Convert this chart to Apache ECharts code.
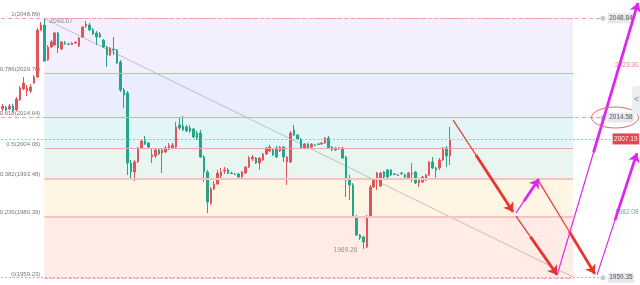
<!DOCTYPE html>
<html><head><meta charset="utf-8">
<script src="https://cdn.jsdelivr.net/npm/echarts@6/dist/echarts.min.js"></script>
<style>html,body{margin:0;padding:0;background:#fff}#c{width:640px;height:285px}</style>
</head><body><div id="c"></div>
<script>
// ---- candle data (one entry per bar) ----
const opens = [2017.69,2018.03,2017.51,2018.55,2017.17,2020.62,2024.41,2023.72,2023.72,2026.48,
 2028.55,2044.76,2046.48,2034.41,2038.89,2039.58,2043.72,2038.20,2040.44,2039.93,
 2039.76,2040.27,2039.24,2042.34,2046.13,2046.48,2044.76,2043.72,2043.38,2041.31,
 2038.89,2036.13,2038.20,2037.86,2033.72,2024.07,2023.03,1998.89,1995.79,1999.24,
 2004.07,2006.48,2005.79,2000.96,2001.31,2003.38,2002.34,2002.69,2003.72,2004.07,
 2004.41,2012.00,2011.65,2011.31,2010.96,2010.62,2009.24,2009.24,2000.96,1995.79,
 1985.10,1989.93,1991.65,1994.41,1996.13,1996.48,1995.44,1995.10,1995.10,1994.07,
 1995.44,1997.51,2000.27,2000.62,1998.89,1999.93,2002.00,2003.03,2003.38,2004.07,
 2003.03,2004.41,1999.24,1999.24,2010.27,2008.55,2007.17,2004.07,2005.44,2004.41,
 2005.10,2005.44,2005.44,2005.79,2007.51,2004.41,2003.38,2004.07,2004.07,2000.96,
 1993.03,1991.31,1980.27,1974.07,1973.38,1969.93,1980.27,1990.62,1993.03,1990.96,
 1995.79,1996.48,1996.48,1995.10,1994.76,1995.44,1994.76,1993.72,1995.10,1995.79,
 1992.00,1992.34,1993.03,1994.76,1999.24,1997.17,1997.17,1999.93,2004.07,2001.31];
const closes = [2018.38,2017.17,2018.55,2017.00,2020.96,2024.76,2026.48,2024.76,2025.10,2028.55,
 2044.76,2046.48,2034.07,2038.89,2040.62,2043.72,2038.55,2040.62,2040.10,2039.76,
 2040.27,2040.44,2042.00,2045.79,2046.82,2044.76,2043.38,2042.34,2042.34,2038.89,
 2036.13,2038.55,2037.86,2033.38,2024.07,2022.34,1998.89,1995.79,1999.24,2004.07,
 2006.48,2005.44,2004.41,2001.65,2003.38,2002.00,2003.38,2004.07,2004.76,2005.10,
 2011.31,2010.96,2010.27,2009.93,2009.93,2007.86,2007.51,2000.96,1995.79,1985.44,
 1989.93,1991.65,1995.44,1995.79,1996.48,1995.44,1995.27,1994.93,1994.07,1995.79,
 1997.51,2000.62,2000.96,1998.89,2000.62,2002.00,2004.07,2004.41,2001.65,2000.96,
 2004.41,2000.96,2000.96,2009.24,2008.55,2007.17,2004.07,2005.44,2004.07,2005.44,
 2004.93,2005.27,2005.79,2007.51,2004.07,2003.38,2004.07,2003.72,2000.62,1993.03,
 1991.31,1980.27,1974.07,1973.03,1971.65,1980.27,1990.62,1993.03,1995.44,1995.44,
 1994.07,1994.07,1994.76,1994.93,1994.58,1995.27,1994.07,1995.44,1995.44,1992.00,
 1993.03,1994.07,1994.76,1999.24,1997.17,1996.48,1999.93,2004.07,2001.31,2007.19];
const lows = [2016.82,2016.82,2017.17,2016.48,2016.82,2020.27,2024.07,2022.00,2023.03,2026.13,
 2028.20,2044.41,2033.72,2034.07,2038.55,2039.24,2036.82,2037.86,2039.58,2039.58,
 2039.58,2039.93,2038.89,2042.00,2045.44,2044.41,2043.03,2039.58,2042.00,2038.55,
 2032.00,2035.79,2036.13,2033.03,2023.38,2017.86,1994.76,1993.72,1992.69,1998.89,
 2003.72,2005.10,2004.07,1998.89,2000.62,2001.65,1995.44,2002.34,2003.38,2003.72,
 2004.07,2010.27,2009.93,2009.58,2009.24,2007.51,2006.82,2000.62,1992.34,1981.65,
 1984.41,1989.58,1991.31,1993.72,1995.10,1995.10,1995.10,1994.76,1993.72,1993.72,
 1995.10,1997.17,1999.58,1998.55,1996.48,1999.58,2001.65,2002.69,2001.31,2000.62,
 2002.69,1999.24,1991.31,1998.89,2008.20,2006.82,2003.72,2003.72,2003.72,2004.07,
 2004.76,2005.10,2005.10,2005.44,2003.72,2003.03,2003.03,2003.38,2000.27,1987.17,
 1986.13,1979.93,1973.72,1972.34,1969.26,1969.58,1979.93,1990.27,1989.58,1990.62,
 1993.72,1993.72,1994.41,1994.76,1994.41,1994.76,1993.72,1993.38,1992.34,1991.65,
 1990.62,1992.00,1992.69,1994.41,1996.82,1993.03,1996.48,1999.58,1997.51,1998.20];
const highs = [2019.24,2018.55,2019.24,2019.24,2021.65,2025.44,2028.55,2025.79,2026.13,2029.24,
 2045.44,2047.51,2048.67,2039.58,2041.31,2044.07,2044.07,2040.96,2040.96,2040.27,
 2040.62,2040.96,2042.34,2046.13,2047.86,2047.17,2045.44,2044.41,2044.07,2041.65,
 2039.24,2038.89,2042.34,2038.20,2034.41,2024.76,2023.72,1999.93,1999.93,2004.41,
 2006.82,2008.20,2006.13,2004.07,2004.07,2004.07,2003.72,2004.76,2005.79,2005.79,
 2013.03,2014.76,2015.10,2012.00,2012.00,2010.96,2009.93,2010.27,2001.65,1996.48,
 1990.62,1992.69,1996.48,1997.17,1997.51,1997.17,1995.79,1995.44,1995.44,1996.13,
 1997.86,2001.31,2001.65,2000.96,2000.96,2002.34,2004.41,2005.10,2003.72,2004.76,
 2004.76,2004.76,2001.31,2009.93,2012.00,2008.89,2007.51,2005.79,2005.79,2005.79,
 2005.44,2005.79,2006.13,2007.86,2008.20,2004.76,2004.41,2004.41,2004.41,2001.31,
 1994.76,1992.00,1980.96,1974.41,1973.72,1980.96,1991.31,1993.72,1995.79,1995.79,
 1996.13,1996.82,1996.82,1995.44,1995.10,1995.79,1995.10,1995.79,1998.89,1996.13,
 1993.38,1994.41,1995.10,1999.58,2000.96,1997.51,2000.62,2004.41,2004.76,2011.31];

// ---- Fibonacci retracement ----
const fibRatios = ['1','0.786','0.618','0.5','0.382','0.236','0'];
const fibPrices = [2048.89,2029.70,2014.64,2004.06,1993.48,1980.39,1959.23];
const fibStartBar = 12;      // bar of the swing high
const fibEndBar = 164.5;     // right end of the retracement drawing

// ---- annotations ----
const highMark = [12, 2048.67];
const lowMark = [104, 1969.26];
const trendLine = [[12, 2048.67], [164.5, 1959.6]];
const grayTags = [2048.84, 2014.58, 1959.35];
const lastPrice = 2007.19;
const targetUp = '2023.30', targetUpAt = 2032.7;
const targetDown = '1982.08', targetDownAt = 1982.08;
// arrows: [from, to, share of thin tail]
const redArrows = [
  [[129.9, 2013.7], [147.2, 1982.0], 0.38],
  [[148.0, 1980.6], [159.9, 1960.3], 0.35],
  [[154.4, 1993.0], [170.8, 1960.6], 0.55]
];
const magentaArrows = [
  [[148.0, 1981.6], [154.6, 1993.4], 0.35],
  [[159.9, 1960.3], [183.2, 2054.1], 0.45],
  [[171.4, 1960.3], [182.9, 2002.3], 0.45]
];

const N = 184;
const categories = Array.from({length: N}, (_, i) => String(i));
const candleData = opens.map((o, i) => [o, closes[i], lows[i], highs[i]]);
const FONT = 'Liberation Sans';
const fibColors = ['#f3effc', '#e9edfc', '#e2f6fa', '#e8f6ef', '#fff5e4', '#ffece6'];
const fibLineW = [1, 1, 1, 1, 2, 2, 1];
const tagEnd = 173.1, lastEnd = 175.6, txtBar = 176.6;

function split(arrows) {
  const thin = [], thick = [];
  arrows.forEach(([a, b, r]) => {
    const m = [a[0] + (b[0] - a[0]) * r, a[1] + (b[1] - a[1]) * r];
    thin.push({coords: [a, m]});
    thick.push({coords: [m, b]});
  });
  return {thin, thick};
}
const ra = split(redArrows), ma = split(magentaArrows);

const grayLabel = {show: true, position: 'end', distance: 5, fontFamily: FONT, fontSize: 6.5,
  color: '#555', backgroundColor: '#e6e8ec', padding: [1.5, 1.5], borderRadius: 1};

const chart = echarts.init(document.getElementById('c'));
chart.setOption({
  animation: false,
  grid: {left: 1, right: 1, top: 0, bottom: 0},
  xAxis: [
    {type: 'category', data: categories, show: false, boundaryGap: true},
    {type: 'value', min: -0.5, max: N - 0.5, show: false}
  ],
  yAxis: {type: 'value', min: 1956.82, max: 2055.10, show: false},
  series: [
    { // retracement bands, lines, labels
      type: 'scatter', xAxisIndex: 1, z: 1, symbolSize: 0, silent: true,
      data: fibPrices.map(p => [fibStartBar, p]),
      label: {show: true, position: 'left', distance: 4, offset: [0, -4], fontFamily: FONT,
        fontSize: 6, color: '#555',
        formatter: p => fibRatios[p.dataIndex] + '(' + fibPrices[p.dataIndex].toFixed(2) + ')'},
      markArea: {silent: true,
        data: fibPrices.slice(0, -1).map((p, i) => [
          {coord: [fibStartBar, p], itemStyle: {color: fibColors[i]}},
          {coord: [fibEndBar, fibPrices[i + 1]]}])},
      markLine: {silent: true, symbol: 'none', label: {show: false},
        data: fibPrices.map((p, i) => [
          {coord: [fibStartBar, p], lineStyle: {width: fibLineW[i],
            color: (i === 4 || i === 5) ? '#f6c4be' : '#eda6ae',
            type: (i === 0 || i === 6) ? 'dashed' : 'solid'}},
          {coord: [fibEndBar, p]}])}
    },
    { // price tags on the right
      type: 'scatter', xAxisIndex: 1, z: 2, symbol: 'circle', symbolSize: 5, silent: true,
      itemStyle: {color: '#b9bdc3'},
      data: grayTags.map(p => [tagEnd, p]),
      markLine: {silent: true, symbol: 'none',
        data: grayTags.map((p, i) => [
          {coord: [-0.5, p], label: Object.assign({}, grayLabel, {distance: 7.5, formatter: p.toFixed(2)}),
           lineStyle: {color: i === 2 ? '#86cbc6' : '#eba2aa', width: 1, type: i === 2 ? [2, 2] : [4, 3]}},
          {coord: [tagEnd - 0.8, p]}
        ]).concat([[
          {coord: [-0.5, lastPrice],
           label: {show: true, position: 'end', distance: 1, fontFamily: FONT, fontSize: 6.5, color: '#fff',
             backgroundColor: '#e2474f', padding: [2, 1.5], formatter: lastPrice.toFixed(2)},
           lineStyle: {color: '#f0a2aa', width: 1, type: [2, 2]}},
          {coord: [lastEnd, lastPrice]}
        ]])}
    },
    { // trend line
      type: 'line', xAxisIndex: 1, z: 2, data: trendLine, symbol: 'none', silent: true,
      lineStyle: {color: 'rgba(150,150,150,0.55)', width: 1}
    },
    {
      type: 'candlestick', z: 3, data: candleData, barWidth: 2,
      itemStyle: {color: '#e2555c', color0: '#25a58a', borderColor: '#e2555c', borderColor0: '#25a58a', borderWidth: 1}
    },
    { // high/low and target texts
      type: 'scatter', xAxisIndex: 1, z: 4, symbolSize: 0, silent: true,
      data: [
        {value: highMark, label: {position: 'right', distance: 5, offset: [0, 3], color: '#777', formatter: highMark[1].toFixed(2)}},
        {value: lowMark, label: {position: 'left', distance: 6, offset: [0, 1], color: '#777', formatter: lowMark[1].toFixed(2)}},
        {value: [txtBar, targetUpAt], label: {position: 'right', distance: 0, color: '#e0606c', formatter: targetUp}},
        {value: [txtBar, targetDownAt], label: {position: 'right', distance: 0, color: '#2aa597', formatter: targetDown}}
      ],
      label: {show: true, fontFamily: FONT, fontSize: 6.5}
    },
    {type: 'lines', coordinateSystem: 'cartesian2d', xAxisIndex: 1, z: 5, silent: true, symbol: 'none',
      data: ra.thin, lineStyle: {color: '#e8352f', width: 1.2, opacity: 1}},
    {type: 'lines', coordinateSystem: 'cartesian2d', xAxisIndex: 1, z: 5, silent: true,
      symbol: ['none', 'arrow'], symbolSize: 9,
      data: ra.thick, lineStyle: {color: '#e8352f', width: 2.8, opacity: 1}},
    {type: 'lines', coordinateSystem: 'cartesian2d', xAxisIndex: 1, z: 6, silent: true, symbol: 'none',
      data: ma.thin, lineStyle: {color: '#dc28ee', width: 1.2, opacity: 1}},
    {type: 'lines', coordinateSystem: 'cartesian2d', xAxisIndex: 1, z: 6, silent: true,
      symbol: ['none', 'arrow'], symbolSize: 9,
      data: ma.thick, lineStyle: {color: '#dc28ee', width: 2.8, opacity: 1}}
  ]
});

const c = chart.convertToPixel({xAxisIndex: 1, yAxisIndex: 0}, [txtBar, grayTags[1]]);
chart.setOption({graphic: [
  {type: 'ellipse', shape: {cx: c[0], cy: c[1], rx: 23.5, ry: 10.5}, z: 10,
   style: {fill: null, stroke: '#e06a6a', lineWidth: 1}},
  {type: 'rect', shape: {x: 632, y: 86, width: 12, height: 28, r: 3}, z: 10,
   style: {fill: '#eceef1'}},
  {type: 'text', x: 634, y: 95, z: 11, style: {text: '<', fill: '#888', fontSize: 9, fontFamily: FONT}}
]});
</script>
</body></html>
